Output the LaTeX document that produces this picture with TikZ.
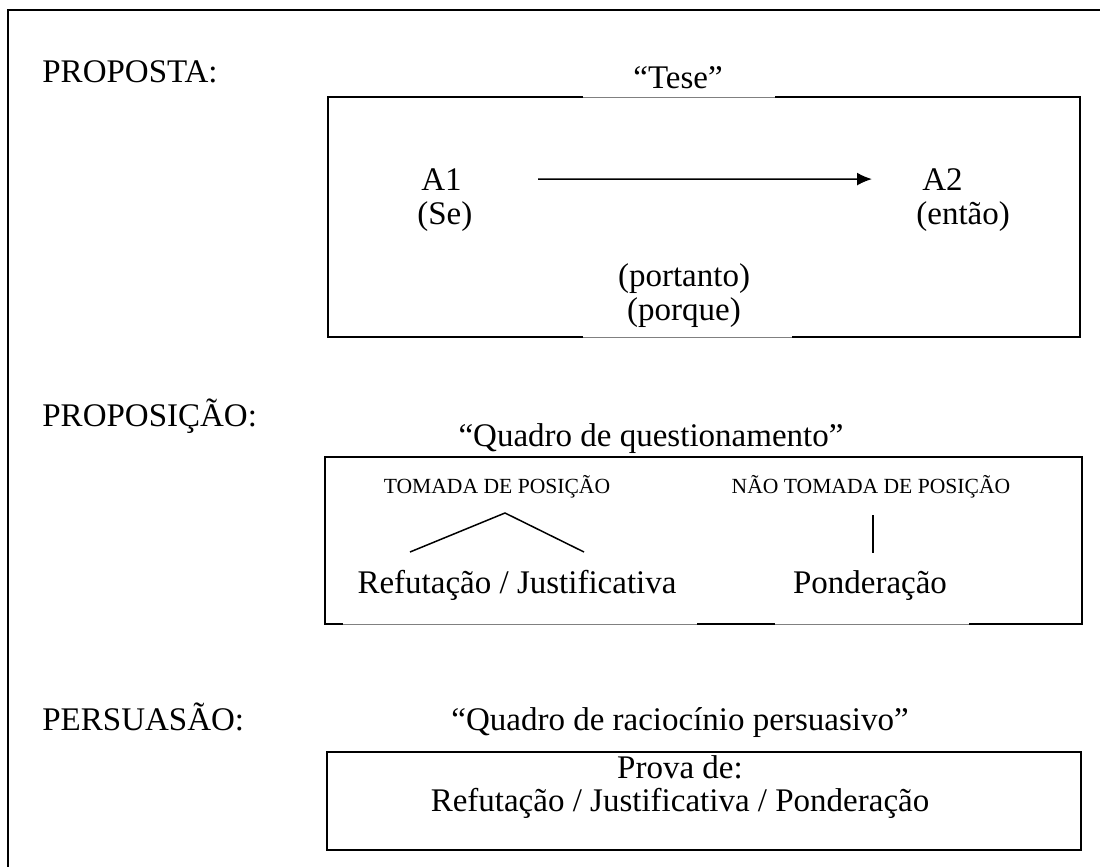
\documentclass[tikz,border=0pt]{standalone}
\usepackage{fontspec}
\setmainfont{Liberation Serif}
\usetikzlibrary{arrows.meta}

\begin{document}
\begin{tikzpicture}[x=0.5pt,y=-0.5pt,
    txt/.style={inner sep=0pt,font=\fontsize{16.5}{20}\selectfont},
    smalltxt/.style={inner sep=0pt,font=\fontsize{10.8}{13}\selectfont},
    boxline/.style={black,line width=1pt},
    gapline/.style={gray,line width=0.5pt}]
            \useasboundingbox (0,0) rectangle (1100,867);
            % moldura exterior
            \draw[boxline](8,867) -- (8,10) -- (1100,10);
            % proposta
            \node[txt,anchor=base west] (proposta) at (42,83) {PROPOSTA:};
            \node[txt,anchor=base] (tese) at (678,89) {“Tese”};
            \draw[boxline](583,97) -| (328,337) -- (583,337);
            \draw[boxline](775,97) -| (1080,337) -- (792,337);
            \draw[gapline](583,97) -- (775,97);
            \draw[gapline](583,337) -- (792,337);
            \node[txt,anchor=base west] (a1) at (421,190) {A1};
            \node[txt,anchor=base west] (se) at (417,224) {(Se)};
            \node[txt,anchor=base west] (a2) at (922,190) {A2};
            \node[txt,anchor=base west] (entao) at (916,224) {(então)};
            \draw[-{Latex[length=7.5pt,width=6.5pt]}, line width=0.8pt, shorten <=38pt, shorten >=25pt](a1.east) -- (a2.west);
            \node[txt,anchor=base] (portanto) at (684,286) {(portanto)};
            \node[txt,anchor=base] (porque) at (684,320) {(porque)};
            % proposicao
            \node[txt,anchor=base west] (proposicao) at (42,426) {PROPOSIÇÃO:};
            \node[txt,anchor=base] (questionamento) at (651,446) {“Quadro de questionamento”};
            \draw[boxline](325,457) rectangle (1082,624);
            \draw[white,line width=1.2pt](343,624) -- (697,624) (775,624) -- (969,624);
            \draw[gapline](343,624) -- (697,624);
            \draw[gapline](775,624) -- (969,624);
            \node[smalltxt,anchor=base] (tomada) at (497,493) {TOMADA DE POSIÇÃO};
            \node[smalltxt,anchor=base] (naotomada) at (871,493) {NÃO TOMADA DE POSIÇÃO};
            \coordinate (apex) at (505,513);
            \coordinate (pe1) at (410,552);
            \coordinate (pe2) at (584,552);
            \coordinate (topo) at (873,515);
            \coordinate (base) at (873,553);
            \draw[line width=0.75pt](pe1) -- (apex) -- (pe2);
            \draw[line width=0.75pt](topo) -- (base);
            \node[txt,anchor=base] (refjust) at (517,593) {Refutação / Justificativa};
            \node[txt,anchor=base] (ponderacao) at (870,593) {Ponderação};
            % persuasao
            \node[txt,anchor=base west] (persuasao) at (42,730) {PERSUASÃO:};
            \node[txt,anchor=base] (raciocinio) at (680,730) {“Quadro de raciocínio persuasivo”};
            \draw[boxline](327,752) rectangle (1081,850);
            \node[txt,anchor=base] (prova) at (680,778) {Prova de:};
            \node[txt,anchor=base] (lista) at (680,811) {Refutação / Justificativa / Ponderação};
        \end{tikzpicture}
\end{document}
